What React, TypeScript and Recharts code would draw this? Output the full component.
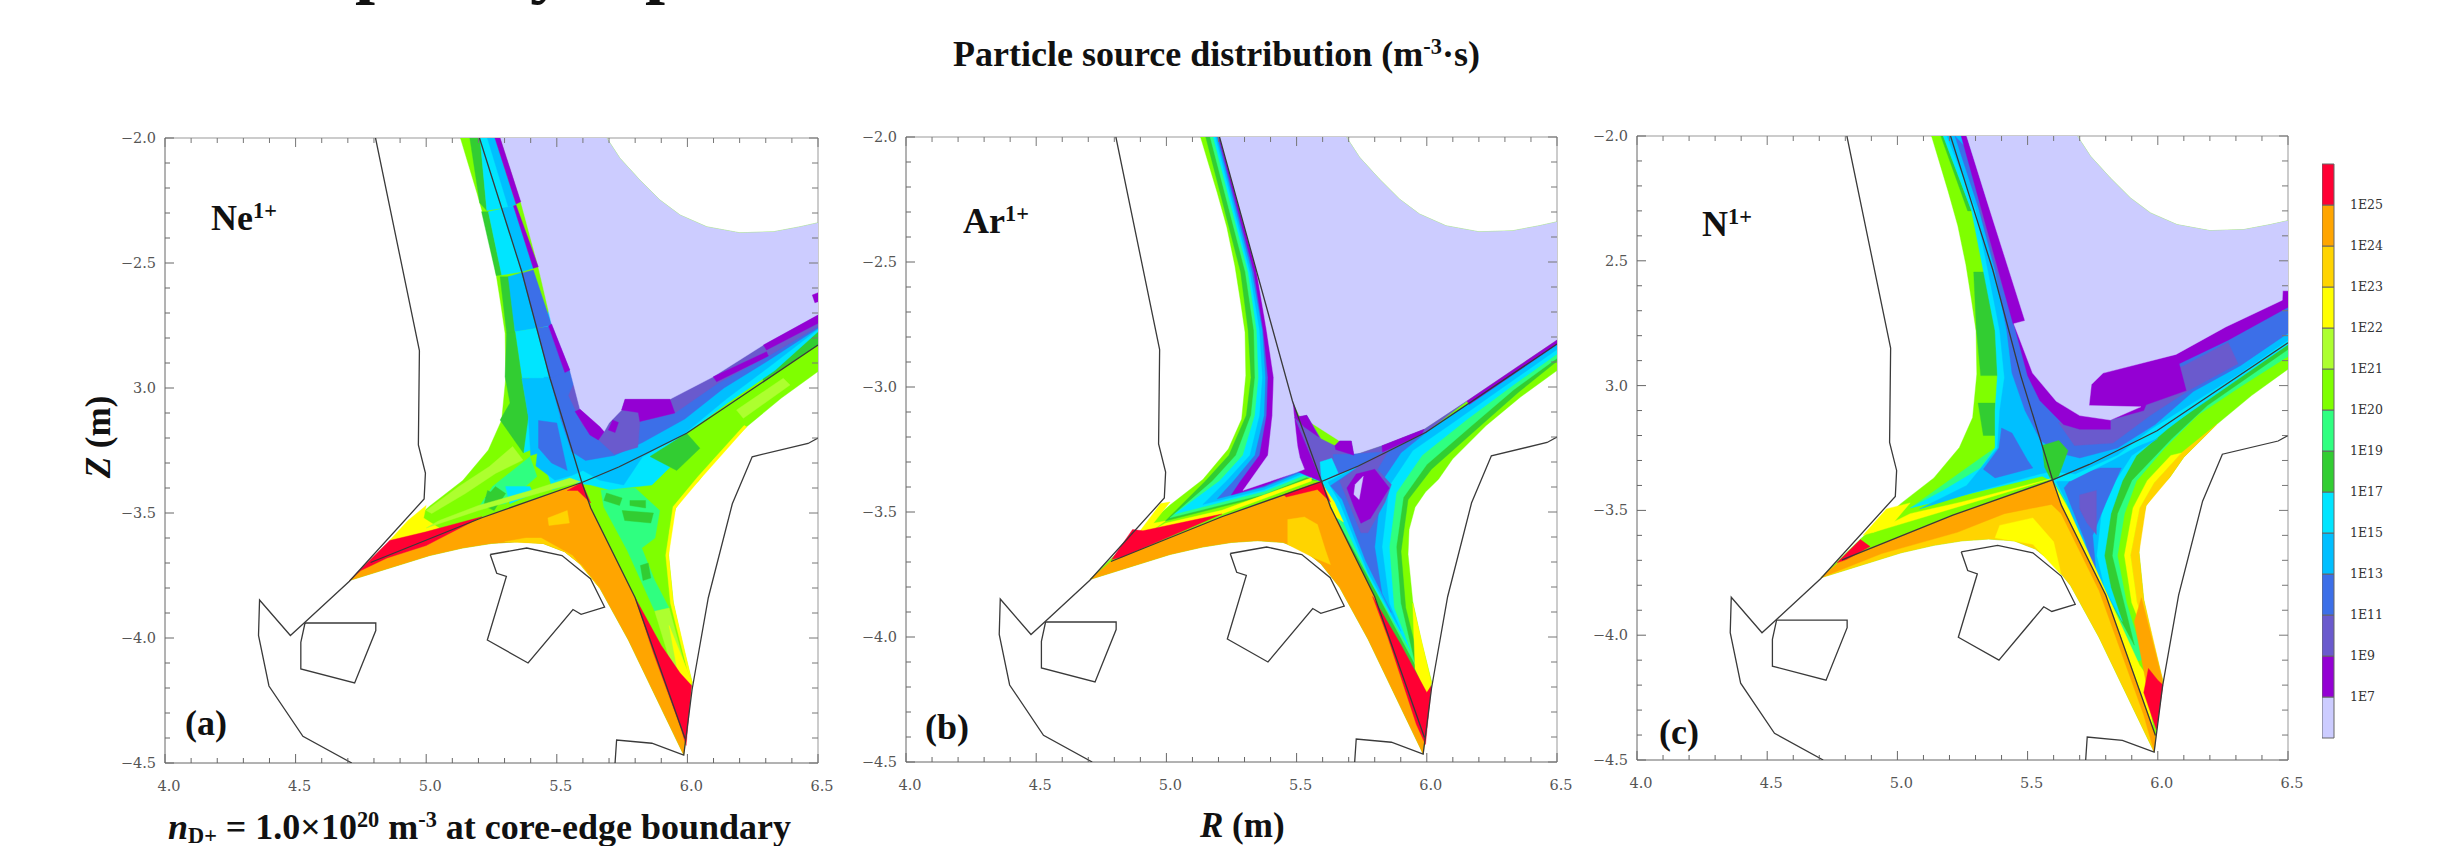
import React from 'react';
import { ScatterChart, Scatter, XAxis, YAxis, BarChart, Bar } from 'recharts';

const RED='#ff0033',ORG='#ffa500',GLD='#ffd400',YEL='#ffff00',GYL='#adff2f',CHR='#7fff00',SPR='#2fff80',LIM='#32cd32',CYN='#00e5ff',SKY='#00bfff',ROY='#3c6fe8',SLT='#6a5acd',VIO='#9400d3',LAV='#ccccff';

const legendColors=[LAV,VIO,SLT,ROY,SKY,CYN,LIM,SPR,CHR,GYL,YEL,GLD,ORG,RED];
const legendLabels=['1E7','1E9','1E11','1E13','1E15','1E17','1E19','1E20','1E21','1E22','1E23','1E24','1E25'];
const xTicks=[4,4.1,4.2,4.3,4.4,4.5,4.6,4.7,4.8,4.9,5,5.1,5.2,5.3,5.4,5.5,5.6,5.7,5.8,5.9,6,6.1,6.2,6.3,6.4,6.5];
const yTicks=[-2,-2.1,-2.2,-2.3,-2.4,-2.5,-2.6,-2.7,-2.8,-2.9,-3,-3.1,-3.2,-3.3,-3.4,-3.5,-3.6,-3.7,-3.8,-3.9,-4,-4.1,-4.2,-4.3,-4.4,-4.5];

// shared geometry, all in (R, Z) metres
const lavTop=[5.691,-2,5.742,-2.081,5.818,-2.168,5.895,-2.248,5.972,-2.308,6.074,-2.355,6.2,-2.379,6.329,-2.375,6.431,-2.355,6.5,-2.339];
const lavTopBack=[6.5,-2.339,6.431,-2.355,6.329,-2.375,6.2,-2.379,6.074,-2.355,5.972,-2.308,5.895,-2.248,5.818,-2.168,5.742,-2.081,5.691,-2];
const domainFan=[5.131,-2,5.195,-2.222,5.232,-2.36,5.263,-2.515,5.285,-2.66,5.302,-2.781,5.305,-2.954,5.289,-3.128,5.238,-3.248,5.14,-3.37,5.014,-3.472,4.86,-3.613,4.706,-3.77,5.014,-3.67,5.14,-3.64,5.249,-3.622,5.35,-3.615,5.448,-3.622,5.53,-3.655,5.593,-3.707,5.665,-3.801,5.774,-4.008,5.986,-4.468,6.018,-4.177,5.98,-4.02,5.946,-3.857,5.928,-3.669,5.932,-3.57,5.955,-3.481,5.995,-3.42,6.045,-3.369,6.099,-3.288,6.227,-3.155,6.36,-3.04,6.5,-2.934,...lavTopBack];
const lowerLobe=[4.706,-3.77,4.787,-3.698,5.213,-3.519,5.596,-3.378,5.63,-3.48,5.80,-3.839,5.991,-4.402,5.986,-4.468,5.774,-4.008,5.665,-3.801,5.593,-3.707,5.53,-3.655,5.448,-3.622,5.35,-3.615,5.249,-3.622,5.14,-3.64,5.014,-3.67];
const wallLeft=[4.806,-2,4.974,-2.85,4.97,-3.228,4.997,-3.34,4.992,-3.444,4.706,-3.773,4.543,-3.93,4.48,-3.99,4.362,-3.848,4.358,-3.99,4.398,-4.192,4.528,-4.393,4.715,-4.5];
const wallBox=[4.536,-3.94,4.807,-3.94,4.807,-3.97,4.726,-4.18,4.52,-4.124,4.52,-4.017,4.536,-3.94];
const wallDome=[5.245,-3.666,5.385,-3.64,5.52,-3.67,5.629,-3.763,5.683,-3.876,5.593,-3.905,5.562,-3.886,5.39,-4.1,5.234,-4.008,5.307,-3.754,5.27,-3.741,5.245,-3.666];
const wallRight=[5.723,-4.5,5.729,-4.408,5.864,-4.421,5.986,-4.468,6.018,-4.206,6.08,-3.839,6.172,-3.463,6.248,-3.275,6.462,-3.222,6.5,-3.2];
const sepLeg=[5.204,-2,5.289,-2.281,5.366,-2.535,5.474,-2.961,5.57,-3.288,5.596,-3.378];
const sepLegAr=[5.204,-2,5.484,-3.056,5.596,-3.378];
const sepDown=[5.596,-3.378,5.63,-3.48,5.80,-3.839,5.991,-4.402];
const sepWing=[5.596,-3.378,5.213,-3.519,4.787,-3.698];
const sepRight=[5.596,-3.378,5.737,-3.316,5.844,-3.261,5.997,-3.181,6.5,-2.828];

// panel (a) Ne
const neEdgeYellow=[5.928,-3.669,5.955,-3.481,6.045,-3.369,6.227,-3.155,6.217,-3.15,6.04,-3.355,5.945,-3.475,5.917,-3.669,5.935,-3.86,6.0,-4.13,6.018,-4.177,5.946,-3.857];
const neSpringRight=[5.669,-3.409,5.8,-3.4,5.894,-3.49,5.876,-3.6,5.825,-3.64,5.875,-3.77,5.93,-3.88,5.875,-3.893,5.77,-3.65,5.68,-3.476];
const neGreenYellowTip=[5.875,-3.893,5.93,-3.88,6.0,-4.148,5.987,-4.16,5.93,-4.08];
const neGreenYellowBar=[6.188,-3.088,6.367,-2.961,6.393,-2.988,6.214,-3.121];
const neGreenYellowWing=[5.021,-3.502,5.15,-3.422,5.265,-3.342,5.37,-3.288,5.331,-3.234,5.242,-3.314,5.125,-3.394,5.0,-3.49];
const neSpringWing=[5.202,-3.476,5.254,-3.394,5.397,-3.275,5.424,-3.354,5.304,-3.463];
const neLimeWing=[5.235,-3.41,5.29,-3.44,5.26,-3.49,5.22,-3.47];
const neLimeWing2=[5.265,-3.394,5.304,-3.422,5.28,-3.46,5.227,-3.44];
const neLimeBig=[5.857,-3.274,5.997,-3.181,6.048,-3.241,5.959,-3.33];
const neLimeA=[5.75,-3.49,5.87,-3.5,5.86,-3.54,5.76,-3.53];
const neLimeB=[5.69,-3.42,5.75,-3.44,5.74,-3.47,5.68,-3.45];
const neLimeC=[5.78,-3.45,5.84,-3.45,5.84,-3.48,5.78,-3.47];
const neLimeD=[5.82,-3.71,5.85,-3.7,5.86,-3.76,5.83,-3.77];
const neLimeStrip=[6.28,-2.92,6.5,-2.775,6.5,-2.828,6.29,-2.97];
const neLimeTop=[5.167,-2,5.206,-2,5.232,-2.29,5.205,-2.26];
const neLimeSide=[5.212,-2.295,5.238,-2.295,5.289,-2.548,5.268,-2.55];
const neCyanFill=[5.372,-3.26,5.42,-3.238,5.457,-3.313,5.484,-3.407,5.557,-3.378,5.63,-3.388,5.70,-3.407,5.864,-3.388,5.937,-3.313,5.864,-3.274,5.997,-3.181,6.154,-3.06,6.335,-2.93,6.5,-2.775,6.5,-2.7,6.0,-2.8,5.5,-2.6,5.4,-2.9];
const neCyanPatch=[5.304,-3.394,5.397,-3.394,5.41,-3.422,5.32,-3.463];
const neSkyFill=[5.42,-3.12,5.44,-3.124,5.42,-3.312,5.493,-3.369,5.557,-3.35,5.6,-3.33,5.665,-3.369,5.756,-3.388,5.792,-3.332,5.828,-3.275,5.99,-3.181,6.154,-3.04,6.32,-2.91,6.5,-2.765,6.5,-2.6,5.5,-2.7];
const neRoyalFill=[5.474,-2.961,5.512,-3.115,5.557,-3.255,5.61,-3.29,5.72,-3.27,5.828,-3.218,5.99,-3.124,6.14,-3.0,6.31,-2.89,6.5,-2.761,6.5,-2.6,5.6,-2.6];
const neRoyalPatch=[5.43,-3.13,5.5,-3.14,5.54,-3.33,5.48,-3.3,5.43,-3.24];
const neSlate=[5.545,-3.03,5.60,-3.15,5.72,-3.265,5.81,-3.237,5.818,-3.134,5.952,-3.1,6.118,-2.98,6.31,-2.872,6.5,-2.755,6.5,-2.7,5.9,-2.9,5.6,-2.9];
const neB2=[5.206,-2,5.263,-2,5.327,-2.275,5.232,-2.29];
const neB3=[5.234,-2,5.263,-2,5.344,-2.268,5.314,-2.275];
const neB4=[5.238,-2.295,5.327,-2.275,5.366,-2.535,5.289,-2.548];
const neB5=[5.289,-2.281,5.334,-2.272,5.41,-2.521,5.366,-2.535];
const neB6=[5.283,-2.555,5.321,-2.555,5.34,-2.78,5.308,-2.78];
const neB7=[5.314,-2.555,5.366,-2.539,5.423,-2.761,5.34,-2.775];
const neB8=[5.366,-2.541,5.41,-2.528,5.48,-2.748,5.423,-2.761];
const neB9=[5.34,-2.775,5.423,-2.761,5.468,-2.954,5.366,-2.961];
const neB10=[5.423,-2.761,5.468,-2.754,5.531,-2.938,5.474,-2.961];
const neB11=[5.308,-2.78,5.34,-2.775,5.366,-2.961,5.391,-3.115,5.372,-3.26,5.283,-3.128,5.321,-3.06,5.302,-2.955];
const neB12=[5.366,-2.961,5.468,-2.961,5.512,-3.115,5.442,-3.12,5.43,-3.26,5.40,-3.27,5.391,-3.115];
const neLav=[5.283,-2,...lavTop,6.5,-2.708,6.291,-2.828,6.099,-2.955,5.933,-3.045,5.761,-3.045,5.748,-3.088,5.7,-3.14,5.681,-3.175,5.589,-3.085,5.55,-2.928,5.48,-2.744,5.429,-2.515,5.362,-2.255];
const neV1=[5.263,-2,5.283,-2,5.362,-2.255,5.344,-2.264];
const neV2=[5.334,-2.272,5.344,-2.268,5.429,-2.515,5.41,-2.521];
const neV3=[5.468,-2.752,5.48,-2.744,5.55,-2.928,5.531,-2.938];
const neV4=[5.57,-3.094,5.589,-3.085,5.665,-3.155,5.681,-3.175,5.659,-3.208,5.627,-3.188];
const neV4b=[5.697,-3.168,5.714,-3.128,5.736,-3.138,5.723,-3.178];
const neV5=[5.748,-3.088,5.761,-3.045,5.933,-3.045,5.952,-3.1,5.818,-3.134,5.812,-3.098];
const neV6=[6.099,-2.955,6.303,-2.855,6.31,-2.872,6.112,-2.975];
const neV7=[6.291,-2.828,6.5,-2.708,6.5,-2.741,6.303,-2.848];
const neV8=[6.478,-2.628,6.5,-2.619,6.5,-2.655,6.488,-2.659];
const neYellowWing=[4.86,-3.61,4.93,-3.53,5.0,-3.47,4.99,-3.52,5.05,-3.56,4.95,-3.59];
const neSepStrip=[5.0,-3.56,5.2,-3.49,5.5,-3.4,5.59,-3.375,5.55,-3.36,5.4,-3.41,5.2,-3.47,5.05,-3.53];
const neGoldEdge=[5.30,-3.615,5.448,-3.622,5.53,-3.655,5.593,-3.707,5.665,-3.801,5.64,-3.77,5.56,-3.67,5.44,-3.60,5.38,-3.6];
const neGoldPatch=[5.466,-3.52,5.54,-3.49,5.548,-3.54,5.47,-3.55];
const neRedWing=[4.706,-3.77,4.86,-3.61,5.0,-3.575,5.213,-3.515,5.0,-3.63,4.85,-3.68,4.75,-3.73];
const neRedX=[5.54,-3.41,5.596,-3.378,5.63,-3.46,5.58,-3.41];
const neRedTip=[5.80,-3.839,5.90,-4.03,5.972,-4.14,6.016,-4.19,5.995,-4.43,5.975,-4.36,5.87,-4.06];
const neYellowTip=[5.93,-3.95,6.018,-4.177,6.0,-4.22,5.96,-4.12];
const neLayers:[string,number[]][]=[[CHR,domainFan],[YEL,neEdgeYellow],[SPR,neSpringRight],[GYL,neGreenYellowTip],[GYL,neGreenYellowBar],[GYL,neGreenYellowWing],[SPR,neSpringWing],[LIM,neLimeStrip],[CYN,neCyanFill],[SKY,neSkyFill],[ROY,neRoyalFill],[SLT,neSlate],[LIM,neLimeTop],[CYN,neB2],[SKY,neB3],[LIM,neLimeSide],[CYN,neB4],[SKY,neB5],[LIM,neB6],[SKY,neB7],[ROY,neB8],[CYN,neB9],[ROY,neB10],[LIM,neB11],[SKY,neB12],[ROY,neRoyalPatch],[LIM,neLimeWing],[LIM,neLimeWing2],[LIM,neLimeBig],[LIM,neLimeA],[LIM,neLimeB],[LIM,neLimeC],[LIM,neLimeD],[CYN,neCyanPatch],[LAV,neLav],[VIO,neV1],[VIO,neV2],[VIO,neV3],[VIO,neV4],[VIO,neV4b],[VIO,neV5],[VIO,neV6],[VIO,neV7],[VIO,neV8],[YEL,neYellowWing],[GYL,neSepStrip],[YEL,neYellowTip],[ORG,lowerLobe],[GLD,neGoldEdge],[GLD,neGoldPatch],[RED,neRedWing],[RED,neRedX],[RED,neRedTip]];

// panel (b) Ar
const arTail=[5.596,-3.378,5.484,-3.056,5.204,-2];
const arLime=[5.151,-2,5.285,-2.54,5.314,-2.774,5.325,-2.962,5.307,-3.113,5.24,-3.273,5.15,-3.376,4.996,-3.536,5.376,-3.436,5.557,-3.372,...arTail];
const arSpring=[5.168,-2,5.303,-2.54,5.336,-2.774,5.34,-2.962,5.325,-3.113,5.267,-3.273,5.177,-3.376,5.014,-3.523,5.376,-3.429,5.539,-3.361,...arTail];
const arCyan=[5.18,-2,5.314,-2.54,5.347,-2.774,5.354,-2.962,5.34,-3.113,5.294,-3.273,5.204,-3.376,5.032,-3.508,5.376,-3.417,5.53,-3.353,...arTail];
const arSky=[5.189,-2,5.321,-2.54,5.358,-2.774,5.369,-2.962,5.358,-3.113,5.321,-3.273,5.231,-3.376,5.14,-3.47,5.376,-3.41,5.52,-3.348,...arTail];
const arRoyal=[5.195,-2,5.329,-2.54,5.369,-2.774,5.381,-2.962,5.376,-3.113,5.34,-3.273,5.258,-3.376,5.195,-3.447,5.376,-3.40,5.512,-3.342,...arTail];
const arViolet=[5.2,-2,5.336,-2.54,5.372,-2.774,5.39,-2.962,5.385,-3.113,5.358,-3.273,5.285,-3.376,5.249,-3.432,5.376,-3.395,5.503,-3.338,...arTail];
const arPocket=[5.347,-2.54,5.385,-2.774,5.412,-2.962,5.407,-3.113,5.39,-3.273,5.32,-3.376,5.294,-3.414,5.376,-3.385,5.493,-3.344,5.53,-3.329,5.512,-3.282,5.503,-3.235,5.484,-3.056];
const arLav=[5.204,-2,...lavTop,6.5,-2.812,6.154,-3.056,5.99,-3.169,5.828,-3.235,5.72,-3.273,5.665,-3.216,5.51,-3.113,5.484,-3.056];
const arUpSlate=[5.493,-3.122,5.539,-3.113,5.593,-3.207,5.647,-3.235,5.665,-3.216,5.71,-3.216,5.72,-3.273,5.828,-3.235,5.99,-3.169,6.154,-3.056,5.997,-3.181,5.737,-3.316,5.596,-3.378];
const arUpRoyal=[5.64,-3.27,5.72,-3.268,5.83,-3.26,5.75,-3.31,5.65,-3.35];
const arUpCyan=[5.59,-3.3,5.635,-3.285,5.66,-3.345,5.596,-3.378];
const arUpV1=[5.493,-3.122,5.539,-3.113,5.585,-3.2,5.53,-3.16];
const arUpV2=[5.647,-3.235,5.665,-3.216,5.71,-3.216,5.72,-3.273,5.65,-3.25];
const arUpV3=[5.828,-3.235,5.99,-3.169,5.98,-3.19,5.83,-3.26];
const arUpV4=[6.154,-3.056,6.5,-2.812,6.5,-2.83,6.163,-3.07];
const arSepTail=[5.63,-3.48,5.596,-3.378,5.737,-3.316,5.997,-3.181,6.5,-2.828];
const arD1=[6.5,-2.897,6.353,-3.02,6.19,-3.17,6.018,-3.329,5.928,-3.451,5.901,-3.658,5.919,-3.883,5.982,-4.147,5.964,-4.184,5.81,-3.865,...arSepTail];
const arD2=[6.5,-2.885,6.335,-3.01,6.172,-3.155,6.0,-3.31,5.91,-3.442,5.883,-3.64,5.90,-3.865,5.955,-4.11,5.81,-3.827,...arSepTail];
const arD3=[6.5,-2.868,6.335,-2.99,6.154,-3.13,5.982,-3.273,5.883,-3.423,5.856,-3.64,5.874,-3.883,5.937,-4.053,5.792,-3.79,5.647,-3.47,5.596,-3.378,5.737,-3.316,5.997,-3.181,6.5,-2.828];
const arD4=[6.5,-2.85,6.281,-3.01,6.118,-3.13,5.946,-3.254,5.856,-3.395,5.828,-3.64,5.856,-3.865,5.901,-3.977,5.774,-3.742,5.665,-3.46,5.62,-3.38,5.737,-3.316,5.997,-3.181,6.5,-2.828];
const arD5=[6.0,-3.18,5.901,-3.263,5.828,-3.376,5.80,-3.64,5.828,-3.827,5.864,-3.902,5.765,-3.695,5.675,-3.45,5.63,-3.395,5.737,-3.32];
const arD6=[5.99,-3.175,5.864,-3.235,5.81,-3.33,5.864,-3.39,5.84,-3.46,5.774,-3.583,5.747,-3.583,5.684,-3.423,5.665,-3.376,5.738,-3.318];
const arD7=[5.729,-3.348,5.80,-3.329,5.856,-3.404,5.828,-3.451,5.783,-3.526,5.747,-3.545,5.72,-3.479,5.693,-3.404];
const arSpot=[5.756,-3.357,5.74,-3.45,5.72,-3.43,5.725,-3.39];
const arYellowEdge=[5.946,-3.865,6.018,-4.184,6.0,-4.23,5.955,-4.128];
const arYellowWing=[4.887,-3.592,4.978,-3.466,5.014,-3.46,4.95,-3.545,4.996,-3.536,4.923,-3.59];
const arYellowSep=[4.923,-3.59,5.213,-3.508,5.557,-3.376,5.557,-3.363,5.213,-3.493,4.996,-3.545];
const arYellowX=[5.60,-3.39,5.645,-3.46,5.68,-3.54,5.65,-3.52];
const arGoldCore=[5.466,-3.53,5.53,-3.52,5.58,-3.55,5.61,-3.65,5.63,-3.71,5.56,-3.68,5.466,-3.63];
const arRedWing=[4.79,-3.69,4.87,-3.57,4.91,-3.575,5.213,-3.508,5.02,-3.595,4.83,-3.68];
const arRedX=[5.45,-3.43,5.57,-3.385,5.596,-3.378,5.63,-3.46,5.58,-3.41,5.46,-3.44];
const arRedTip=[5.792,-3.838,5.90,-4.03,6.0,-4.222,6.018,-4.194,5.995,-4.43,5.96,-4.35,5.85,-4.0];
const arLayers:[string,number[]][]=[[CHR,domainFan],[LIM,arLime],[SPR,arSpring],[CYN,arCyan],[SKY,arSky],[ROY,arRoyal],[VIO,arViolet],[LAV,arPocket],[LAV,arLav],[LIM,arD1],[SPR,arD2],[CYN,arD3],[SKY,arD4],[ROY,arD5],[SLT,arD6],[VIO,arD7],[LAV,arSpot],[SLT,arUpSlate],[ROY,arUpRoyal],[CYN,arUpCyan],[VIO,arUpV1],[VIO,arUpV2],[VIO,arUpV3],[VIO,arUpV4],[YEL,arYellowEdge],[YEL,arYellowWing],[YEL,arYellowSep],[YEL,arYellowX],[ORG,lowerLobe],[GLD,arGoldCore],[RED,arRedWing],[RED,arRedX],[RED,arRedTip]];

// panel (c) N
const nGoldEdge=[5.928,-3.669,5.955,-3.481,6.045,-3.369,6.099,-3.288,6.227,-3.155,6.09,-3.27,5.985,-3.39,5.93,-3.49,5.895,-3.68,5.92,-3.87,5.955,-3.964,5.991,-4.115,6.018,-4.177,5.946,-3.857];
const nYellowEdge=[6.09,-3.27,5.985,-3.39,5.93,-3.49,5.895,-3.68,5.92,-3.87,5.955,-3.964,5.94,-3.975,5.90,-3.87,5.872,-3.68,5.905,-3.49,5.96,-3.38,6.05,-3.28];
const nSepTail=[5.596,-3.378,5.737,-3.316,5.997,-3.181,6.5,-2.828];
const nSpring=[6.5,-2.883,6.317,-3.005,6.154,-3.118,6.027,-3.25,5.918,-3.382,5.872,-3.513,5.845,-3.682,5.88,-3.87,5.946,-4.095,5.92,-4.105,5.80,-3.85,5.63,-3.48,...nSepTail];
const nLimeW=[6.5,-2.855,6.19,-3.08,6.054,-3.212,5.90,-3.38,5.845,-3.513,5.825,-3.682,5.91,-4.04,5.773,-3.776,5.665,-3.494,...nSepTail];
const nCyanW=[6.18,-3.06,6.036,-3.175,5.918,-3.28,5.864,-3.382,5.82,-3.513,5.795,-3.682,5.82,-3.81,5.864,-3.945,5.78,-3.79,5.665,-3.494,5.596,-3.378,5.737,-3.316,5.997,-3.181,6.18,-3.05];
const nSkyW=[6.0,-3.212,5.90,-3.28,5.837,-3.382,5.783,-3.513,5.765,-3.682,5.795,-3.81,5.84,-3.9,5.74,-3.72,5.647,-3.46,5.61,-3.385,5.737,-3.32];
const nRoyalW=[5.68,-3.36,5.78,-3.33,5.86,-3.33,5.80,-3.47,5.75,-3.6,5.765,-3.776,5.72,-3.62,5.67,-3.49,5.64,-3.41];
const nSlateW=[5.70,-3.438,5.764,-3.42,5.764,-3.597,5.728,-3.55,5.70,-3.494];
const nLime1=[5.293,-2.545,5.342,-2.545,5.384,-2.77,5.384,-2.96,5.32,-2.96,5.303,-2.77];
const nLime2=[5.167,-2,5.176,-2,5.285,-2.3,5.27,-2.3];
const nLime3=[5.31,-3.07,5.375,-3.07,5.375,-3.2,5.33,-3.2];
const nSpringL=[5.05,-3.49,5.32,-3.29,5.375,-3.25,5.37,-3.33,5.2,-3.44];
const nCyan=[5.176,-2,5.285,-2.30,5.33,-2.54,5.375,-2.78,5.384,-2.96,5.375,-3.1,5.375,-3.25,5.32,-3.33,5.176,-3.42,5.05,-3.49,5.25,-3.44,5.556,-3.363,5.592,-3.382,5.665,-3.382,5.828,-3.297,5.99,-3.203,6.317,-2.968,6.5,-2.836,6.5,-2.7,5.6,-2.9,5.4,-2];
const nSky=[5.19,-2,5.30,-2.29,5.348,-2.54,5.393,-2.78,5.411,-2.968,5.393,-3.1,5.384,-3.25,5.266,-3.40,5.085,-3.494,5.284,-3.43,5.547,-3.354,5.592,-3.344,5.683,-3.354,5.846,-3.278,5.973,-3.175,6.317,-2.95,6.5,-2.818,6.5,-2.7,5.6,-2.9,5.4,-2];
const nRoyal=[5.221,-2,5.312,-2.29,5.375,-2.54,5.42,-2.78,5.44,-2.95,5.49,-3.1,5.55,-3.22,5.62,-3.27,5.70,-3.29,5.846,-3.25,5.99,-3.156,6.136,-3.024,6.317,-2.92,6.5,-2.79,6.5,-2.6,5.7,-2.8,5.4,-2.2];
const nRoyalPatch=[5.33,-3.335,5.39,-3.25,5.40,-3.17,5.44,-3.19,5.5,-3.3,5.52,-3.33,5.375,-3.37];
const nSlateA=[5.31,-2.27,5.345,-2.25,5.44,-2.6,5.49,-2.745,5.45,-2.75,5.38,-2.53];
const nSlateB=[5.62,-3.15,5.68,-3.24,5.828,-3.23,5.973,-3.118,6.118,-3.02,6.308,-2.912,6.27,-2.827,6.1,-2.92,5.9,-3.0,5.7,-3.1];
const nViolet1=[5.245,-2,5.266,-2,5.347,-2.27,5.50,-2.72,5.49,-2.755,5.445,-2.755];
const nViolet2=[5.447,-2.752,5.50,-2.96,5.547,-3.06,5.638,-3.156,5.70,-3.175,5.818,-3.175,5.818,-3.137,5.946,-3.10,5.955,-3.077,6.109,-3.02,6.082,-2.912,6.27,-2.818,6.5,-2.686,6.5,-2.5,5.6,-2.5];
const nLav=[5.266,-2,...lavTop,6.5,-2.62,6.48,-2.62,6.478,-2.658,6.261,-2.765,6.07,-2.875,5.79,-2.95,5.745,-2.996,5.736,-3.08,5.935,-3.085,5.818,-3.138,5.70,-3.12,5.61,-3.063,5.519,-2.95,5.447,-2.752,5.49,-2.74,5.347,-2.27];
const nXLime=[5.556,-3.24,5.62,-3.22,5.655,-3.26,5.62,-3.36,5.592,-3.382,5.565,-3.326];
const nOrange=[4.706,-3.77,4.787,-3.698,5.213,-3.519,5.596,-3.378,5.63,-3.48,5.80,-3.839,5.991,-4.402,5.986,-4.468,5.946,-4.32,5.774,-3.82,5.629,-3.513,5.592,-3.476,5.411,-3.513,5.23,-3.588,4.94,-3.673];
const nYellowCore=[5.393,-3.56,5.52,-3.53,5.60,-3.626,5.629,-3.758,5.52,-3.636,5.375,-3.61];
const nYellowWing=[4.868,-3.6,4.958,-3.494,5.049,-3.47,4.976,-3.56,4.904,-3.589];
const nYellowSep=[4.904,-3.589,5.592,-3.373,5.248,-3.466,5.049,-3.513,4.958,-3.56];
const nYellowDown=[5.6,-3.39,5.66,-3.5,5.82,-3.87,5.93,-4.12,5.95,-4.15,5.98,-4.36,5.84,-4.0,5.65,-3.54];
const nOrangeEdge=[5.937,-3.85,6.02,-4.19,5.995,-4.36,5.955,-4.19,5.91,-3.945];
const nRedTip=[5.964,-4.133,6.0,-4.18,6.02,-4.2,5.995,-4.38,5.946,-4.23];
const nRedWing=[4.768,-3.71,4.858,-3.617,4.895,-3.645,4.804,-3.697];
const nLayers:[string,number[]][]=[[CHR,domainFan],[GLD,nGoldEdge],[YEL,nYellowEdge],[SPR,nSpring],[LIM,nLimeW],[CYN,nCyanW],[SKY,nSkyW],[ROY,nRoyalW],[SLT,nSlateW],[SPR,nSpringL],[LIM,nLime1],[LIM,nLime2],[LIM,nLime3],[CYN,nCyan],[SKY,nSky],[ROY,nRoyal],[ROY,nRoyalPatch],[SLT,nSlateA],[SLT,nSlateB],[VIO,nViolet1],[VIO,nViolet2],[LAV,nLav],[LIM,nXLime],[YEL,nYellowWing],[YEL,nYellowSep],[YEL,nYellowDown],[GLD,lowerLobe],[ORG,nOrange],[YEL,nYellowCore],[ORG,nOrangeEdge],[RED,nRedTip],[RED,nRedWing]];

const pts=(f:number[])=>{const o:{r:number,z:number}[]=[];for(let i=0;i<f.length;i+=2)o.push({r:f[i],z:f[i+1]});return o;};
const noDot=()=>null;
const fillPoly=(c:string)=>(p:any)=><polygon points={p.points.map((q:any)=>`${q.x},${q.y}`).join(' ')} fill={c} stroke={c} strokeWidth={0.4}/>;
const inkLine=(w:number)=>(p:any)=><polyline points={p.points.map((q:any)=>`${q.x},${q.y}`).join(' ')} fill="none" stroke="#3a3a3a" strokeWidth={w}/>;

const tickFont={fontFamily:'"DejaVu Serif"',fontSize:14.5,fill:'#555'};
const isMajor=(v:number)=>Math.abs(v*2-Math.round(v*2))<1e-6;
const BottomTick=(p:any)=>{const m=isMajor(p.payload.value);return <g><line x1={p.x} x2={p.x} y1={p.y} y2={p.y-(m?9:5)} stroke="#666"/>{m&&<text x={p.x+4} y={p.y+28} textAnchor="middle" {...tickFont}>{p.payload.value.toFixed(1)}</text>}</g>;};
const TopTick=(p:any)=>{const m=isMajor(p.payload.value);return <line x1={p.x} x2={p.x} y1={p.y} y2={p.y+(m?9:5)} stroke="#777"/>;};
const leftTick=(labels:Record<string,string>)=>(p:any)=>{const m=isMajor(p.payload.value);const k=p.payload.value.toFixed(1);return <g><line x1={p.x} x2={p.x+(m?9:5)} y1={p.y} y2={p.y} stroke="#666"/>{m&&<text x={p.x-9} y={p.y+5} textAnchor="end" {...tickFont}>{labels[k]??k.replace('-','\u2212')}</text>}</g>;};
const RightTick=(p:any)=>{const m=isMajor(p.payload.value);return <line x1={p.x} x2={p.x-(m?9:6)} y1={p.y} y2={p.y} stroke="#777"/>;};

const Panel=({left,top,w,h,layers,sep,labels}:{left:number,top:number,w:number,h:number,layers:[string,number[]][],sep:number[],labels:Record<string,string>})=>{
  const ml=70,mt=10,mr=30,mb=40;
  const lines=[wallLeft,wallBox,wallDome,wallRight,sep,sepDown,sepWing,sepRight];
  return <div style={{position:'absolute',left:left-ml-1,top:top-mt-1}}>
    <ScatterChart width={w+ml+mr+2} height={h+mt+mb+2} margin={{left:ml,top:mt,right:mr,bottom:mb}}>
      <XAxis xAxisId="b" type="number" dataKey="r" orientation="bottom" domain={[4,6.5]} ticks={xTicks} interval={0} height={1} tickSize={0} tickMargin={0} tickLine={false} stroke="#666" tick={BottomTick} allowDataOverflow/>
      <XAxis xAxisId="t" type="number" dataKey="r" orientation="top" domain={[4,6.5]} ticks={xTicks} interval={0} height={1} tickSize={0} tickMargin={0} tickLine={false} stroke="#999" tick={TopTick} allowDataOverflow/>
      <YAxis yAxisId="l" type="number" dataKey="z" orientation="left" domain={[-4.5,-2]} ticks={yTicks} interval={0} width={1} tickSize={0} tickMargin={0} tickLine={false} stroke="#666" tick={leftTick(labels)} allowDataOverflow/>
      <YAxis yAxisId="r" type="number" dataKey="z" orientation="right" domain={[-4.5,-2]} ticks={yTicks} interval={0} width={1} tickSize={0} tickMargin={0} tickLine={false} stroke="#999" tick={RightTick} allowDataOverflow/>
      {layers.map(([c,f],i)=><Scatter key={i} xAxisId="b" yAxisId="l" data={pts(f)} shape={noDot} line={fillPoly(c)} fill={c} isAnimationActive={false}/>)}
      {lines.map((f,i)=><Scatter key={'w'+i} xAxisId="b" yAxisId="l" data={pts(f)} shape={noDot} line={inkLine(1.3)} fill="#333" isAnimationActive={false}/>)}
    </ScatterChart>
  </div>;
};

const legendRow=[legendColors.reduce((o:any,_,i)=>{o['b'+i]=1;return o;},{cat:'s'})];
const legendTicks=legendLabels.map((_,i)=>i+1);
const Legend=()=><div style={{position:'absolute',left:2322,top:160}}>
  <BarChart width={72} height={583} data={legendRow} margin={{left:0,top:4,right:0,bottom:5}} barCategoryGap={0}>
    <XAxis dataKey="cat" hide/>
    <YAxis orientation="right" type="number" domain={[0,14]} ticks={legendTicks} interval={0} width={60} axisLine={false} tickLine={false} tickMargin={10} tick={{fontFamily:'"DejaVu Serif"',fontSize:12.5,fill:'#333'}} tickFormatter={(v:number)=>legendLabels[v-1]}/>
    {legendColors.map((c,i)=><Bar key={c} dataKey={'b'+i} stackId="s" fill={c} stroke="#666" strokeWidth={1} isAnimationActive={false}/>)}
  </BarChart>
</div>;

const serif='"Liberation Serif"';
const T=({x,y,size,children,style}:any)=><div style={{position:'absolute',left:x,top:y,fontFamily:serif,fontWeight:700,fontSize:size,lineHeight:1,whiteSpace:'nowrap',color:'#111',...style}}>{children}</div>;
const sup={fontSize:'0.62em',verticalAlign:'0.55em',lineHeight:0};
const sub={fontSize:'0.62em',verticalAlign:'-0.2em',lineHeight:0};

export default function App(){
  return <div style={{position:'absolute',left:0,top:0,width:2451,height:846,overflow:'hidden',background:'#fff'}}>
    <T x={355} y={-70} size={72}>p</T><T x={530} y={-70} size={72}>y</T><T x={645} y={-70} size={72}>p</T>
    <T x={953} y={36} size={36}>Particle source distribution (m<span style={sup}>-3</span>·s)</T>
    <Panel left={165} top={138} w={653} h={625} layers={neLayers} sep={sepLeg} labels={{'-3.0':'3.0'}}/>
    <Panel left={906} top={137} w={651} h={625} layers={arLayers} sep={sepLegAr} labels={{}}/>
    <Panel left={1637} top={136} w={651} h={624} layers={nLayers} sep={sepLeg} labels={{'-2.5':'2.5','-3.0':'3.0'}}/>
    <Legend/>
    <T x={211} y={200} size={36}>Ne<span style={sup}>1+</span></T>
    <T x={963} y={203} size={36}>Ar<span style={sup}>1+</span></T>
    <T x={1702} y={206} size={36}>N<span style={sup}>1+</span></T>
    <T x={185} y={705} size={36}>(a)</T>
    <T x={925} y={709} size={36}>(b)</T>
    <T x={1659} y={714} size={36}>(c)</T>
    <T x={98} y={437} size={35} style={{transform:'translate(-50%,-50%) rotate(-90deg)'}}><i>Z</i> (m)</T>
    <T x={1200} y={808} size={35}><i>R</i> (m)</T>
    <T x={168} y={809} size={36}><i>n</i><span style={sub}>D+</span> = 1.0×10<span style={sup}>20</span> m<span style={sup}>-3</span> at core-edge boundary</T>
  </div>;
}
